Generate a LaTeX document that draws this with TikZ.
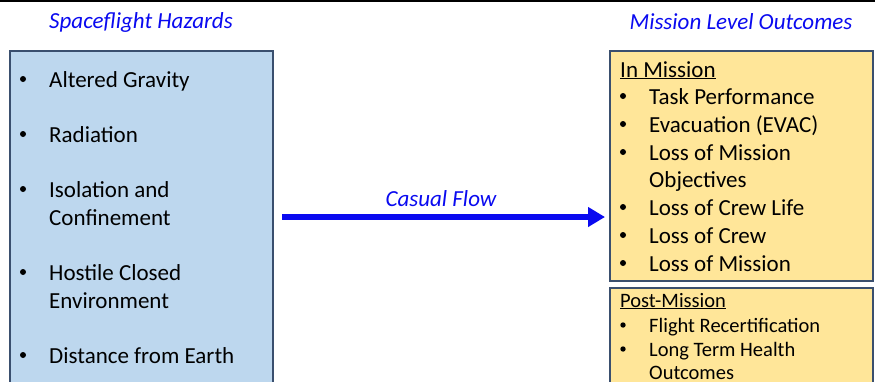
\documentclass[tikz,border=0pt]{standalone}
\usepackage{fontspec}
\setmainfont{Carlito}
\usetikzlibrary{arrows.meta}
\definecolor{hazfill}{HTML}{BDD7EE}
\definecolor{outfill}{HTML}{FFE699}
\definecolor{boxline}{HTML}{3A4F6E}
\definecolor{ttlblue}{HTML}{0A0AF0}
\begin{document}
\begin{tikzpicture}[x=1pt,y=-1pt,
  title/.style={text=ttlblue,font=\fontsize{23}{26}\selectfont\itshape,inner sep=0pt},
  item/.style={anchor=base west,inner sep=0pt,font=\fontsize{23}{26}\selectfont},
  bul/.style={circle,fill=black,inner sep=0pt,minimum size=6pt,yshift=8pt},
  sitem/.style={anchor=base west,inner sep=0pt,font=\fontsize{20.5}{24}\selectfont},
  sbul/.style={circle,fill=black,inner sep=0pt,minimum size=5.4pt,yshift=7pt},
  panel/.style={draw=boxline,line width=1.2pt}]
\useasboundingbox (0,0) rectangle (875,381);
\clip (0,0) rectangle (875,381);
\fill[white] (0,0) rectangle (875,381);
\draw[line width=2pt,black] (0,1) -- (875,1);
% panels
\draw[panel,fill=hazfill] (10,51) rectangle (273,400);
\draw[panel,fill=outfill] (610,51) rectangle (873,281);
\draw[panel,fill=outfill] (610,288) rectangle (873,400);
% titles
\node[title] (t1) at (141,22) {Spaceflight Hazards};
\node[title] (t2) at (741,22) {Mission Level Outcomes};
% left items
\foreach \n/\y/\t in {a/87/Altered Gravity,b/142/Radiation,c/197/Isolation and,e/280/Hostile Closed,g/363/Distance from Earth}{
  \node[bul] (lb\n) at (23,\y) {};
  \node[item] (l\n) at (49,\y) {\t};
}
\node[item] (ld) at (49,225) {Confinement};
\node[item] (lf) at (49,308) {Environment};
% right top
\node[item] (inm) at (620,77) {\underline{In Mission}};
\foreach \n/\y/\t in {a/104/Task Performance,b/132/Evacuation (EVAC),c/160/Loss of Mission,e/215/Loss of Crew Life,f/243/Loss of Crew,g/271/Loss of Mission}{
  \node[bul] (rb\n) at (623,\y) {};
  \node[item] (r\n) at (649,\y) {\t};
}
\node[item] (rd) at (649,187) {Objectives};
% right bottom
\node[sitem] (pm) at (620,307) {\underline{Post-Mission}};
\node[sbul] (pb1) at (623,332) {};
\node[sitem] (p1) at (649,332) {Flight Recertification};
\node[sbul] (pb2) at (623,356) {};
\node[sitem] (p2) at (649,356) {Long Term Health};
\node[sitem] (p3) at (649,379) {Outcomes};
% arrow
\coordinate (as) at (282,217);
\coordinate (ae) at (605,217);
\draw[ttlblue,line width=5.5pt,-{Triangle[length=17pt,width=19pt]}] (as) -- (ae);
\node[title] (cf) at (441,199) {Casual Flow};
\end{tikzpicture}
\end{document}
